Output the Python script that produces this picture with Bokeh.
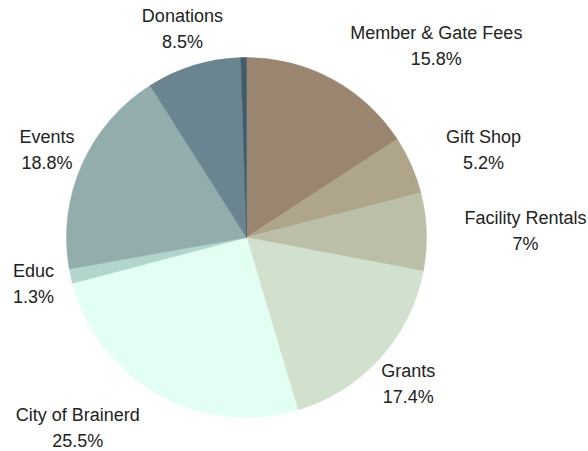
import math
from bokeh.plotting import figure
from bokeh.models import ColumnDataSource, Range1d
from bokeh.core.properties import value
from bokeh.embed import file_html
from bokeh.resources import INLINE

# ---- data ----
categories = ["Member & Gate Fees", "Gift Shop", "Facility Rentals", "Grants",
              "City of Brainerd", "Educ", "Events", "Donations", "Other"]
shares = [15.8, 5.2, 7, 17.4, 25.5, 1.3, 18.8, 8.5, 0.5]
colors = ["#9a8571", "#aea58b", "#bcbfa7", "#d1e1cd", "#e3fef2",
          "#b2d5cd", "#93adad", "#6b8590", "#435a6a"]

# ---- layout ----
W, H = 588, 451
CX, CY = 246, 237          # pie centre (px from left / top)
R = 180                    # pie radius (px)
LABEL_GAP = 38             # distance of label anchor outside the rim
FONT_PX = 18
LINE_STEP = 26

# Arial / Liberation Sans advance widths (per 1000 em)
CW = {" ": 278, "&": 667, "%": 889, ".": 278, "A": 667, "B": 667, "C": 722,
      "D": 722, "E": 667, "F": 611, "G": 778, "M": 833, "R": 722, "S": 667,
      "a": 556, "b": 556, "c": 500, "d": 556, "e": 556, "f": 278, "g": 556,
      "h": 556, "i": 222, "l": 222, "m": 833, "n": 556, "o": 556, "p": 556,
      "r": 333, "s": 500, "t": 278, "u": 556, "y": 500, "v": 500, "k": 500}


def text_width(s):
    return sum(CW.get(ch, 556) for ch in s) * FONT_PX / 1000.0


total = float(sum(shares))
starts, ends = [], []
cum = 0.0
for v in shares:
    starts.append(math.pi / 2 - 2 * math.pi * cum / total)
    cum += v
    ends.append(math.pi / 2 - 2 * math.pi * cum / total)

wedges = ColumnDataSource(dict(start=starts, end=ends, color=colors))

p = figure(width=W, height=H, output_backend="svg", toolbar_location=None,
           x_range=Range1d(-CX, W - CX), y_range=Range1d(-(H - CY), CY),
           x_axis_type=None, y_axis_type=None, min_border=0,
           background_fill_color="white", border_fill_color="white")
p.outline_line_color = None
p.grid.visible = False

p.wedge(x=0, y=0, radius=R, start_angle="start", end_angle="end",
        direction="clock", fill_color="color", line_color="color",
        line_width=0.5, source=wedges)

lx, ly, lt = [], [], []
cum = 0.0
for name, v in zip(categories, shares):
    mid = (cum + v / 2) / total
    cum += v
    if v < 1:
        continue
    th = 2 * math.pi * mid
    s, c = math.sin(th), math.cos(th)
    ax, ay = (R + LABEL_GAP) * s, (R + LABEL_GAP) * c
    pct = f"{v:g}%"
    w = max(text_width(name), text_width(pct))
    h = 2 * LINE_STEP - 6
    x0, x1 = ax - w / 2, ax + w / 2
    y0, y1 = ay - h / 2, ay + h / 2
    nx = min(max(0, x0), x1)
    ny = min(max(0, y0), y1)
    bx = ax
    if math.hypot(nx, ny) < R:
        bx = ax + w / 2 if s > 0 else ax - w / 2
    lx += [bx, bx]
    ly += [ay + LINE_STEP / 2, ay - LINE_STEP / 2]
    lt += [name, pct]

labels = ColumnDataSource(dict(x=lx, y=ly, t=lt))
p.text(x="x", y="y", text="t", source=labels, text_align="center",
       text_baseline="middle", text_font=value("Liberation Sans"),
       text_font_size=f"{FONT_PX}px", text_color="#222222")

open("out.html", "w").write(file_html(p, INLINE))
